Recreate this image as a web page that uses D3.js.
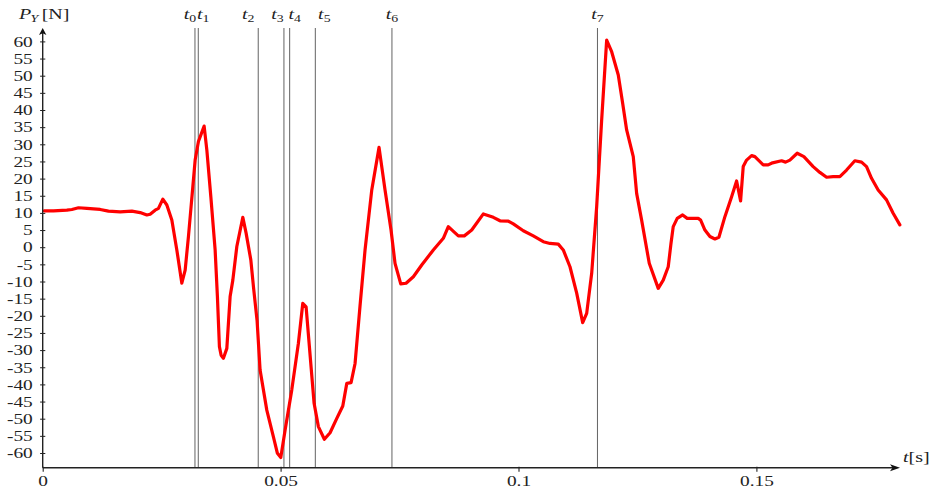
<!DOCTYPE html>
<html>
<head>
<meta charset="utf-8">
<script src="https://cdn.jsdelivr.net/npm/d3@7"></script>
<style>
  html, body { margin: 0; padding: 0; background: #fff; }
  svg { display: block; }
</style>
</head>
<body>
<svg id="chart" width="934" height="492"></svg>
<script>
// Measured lateral force P_Y over time (seconds, newtons)
const timeS = [
  0.00032, 0.00227, 0.00508, 0.00613, 0.00752, 0.00929, 0.01208, 0.01382, 0.01628, 0.01874,
  0.02048, 0.02189, 0.02258, 0.02363, 0.02433, 0.02525, 0.02609, 0.02714, 0.02819, 0.02924,
  0.02994, 0.03063, 0.03155, 0.03204, 0.03273, 0.03393, 0.03450, 0.03534, 0.03624, 0.03672,
  0.03714, 0.03750, 0.03798, 0.03870, 0.03939, 0.03996, 0.04080, 0.04206, 0.04275, 0.04374,
  0.04433, 0.04506, 0.04569, 0.04710, 0.04849, 0.04933, 0.05004, 0.05095, 0.05235, 0.05374,
  0.05466, 0.05536, 0.05605, 0.05704, 0.05794, 0.05920, 0.06040, 0.06181, 0.06307, 0.06391,
  0.06481, 0.06565, 0.06670, 0.06775, 0.06916, 0.07069, 0.07195, 0.07321, 0.07405, 0.07525,
  0.07637, 0.07790, 0.07966, 0.08210, 0.08420, 0.08525, 0.08735, 0.08861, 0.09017, 0.09261,
  0.09471, 0.09611, 0.09786, 0.09891, 0.10101, 0.10311, 0.10521, 0.10662, 0.10836, 0.10941,
  0.11082, 0.11223, 0.11349, 0.11433, 0.11538, 0.11643, 0.11748, 0.11853, 0.11958, 0.12097,
  0.12189, 0.12273, 0.12412, 0.12483, 0.12588, 0.12748, 0.12937, 0.13042, 0.13147, 0.13204,
  0.13252, 0.13336, 0.13450, 0.13546, 0.13777, 0.13828, 0.13918, 0.14023, 0.14128, 0.14212,
  0.14338, 0.14479, 0.14584, 0.14668, 0.14723, 0.14794, 0.14899, 0.14968, 0.15143, 0.15248,
  0.15340, 0.15529, 0.15613, 0.15704, 0.15857, 0.15998, 0.16193, 0.16334, 0.16475, 0.16613,
  0.16754, 0.16895, 0.17069, 0.17210, 0.17315, 0.17420, 0.17559, 0.17735, 0.17874, 0.18015
];
const forceN = [
  10.6, 10.6, 10.8, 11.0, 11.5, 11.3, 11.0, 10.5, 10.3, 10.5,
  10.1, 9.4, 9.6, 10.8, 11.3, 14.0, 12.3, 7.9, -0.8, -10.5,
  -6.7, 3.1, 17.6, 25.4, 30.8, 35.3, 28.3, 14.7, -0.8, -14.4,
  -29.0, -31.5, -32.4, -29.5, -14.4, -9.6, 0.2, 8.7, 4.1, -3.7,
  -12.0, -21.5, -35.8, -47.5, -55.3, -60.1, -61.3, -53.3, -41.6, -28.0,
  -16.4, -17.4, -29.0, -45.5, -52.3, -56.0, -54.1, -49.9, -46.3, -39.7,
  -39.5, -33.9, -17.0, -0.8, 16.7, 29.1, 16.7, 5.0, -4.7, -10.7,
  -10.5, -8.6, -5.2, -0.8, 2.6, 6.0, 3.3, 3.3, 5.0, 9.7,
  8.7, 7.7, 7.6, 6.8, 4.8, 3.3, 1.6, 1.1, 0.9, -0.8,
  -5.7, -13.4, -22.0, -19.3, -7.6, 11.8, 37.1, 60.4, 57.0, 50.2,
  42.0, 34.2, 26.4, 15.7, 7.9, -4.7, -12.0, -9.6, -5.7, 1.0,
  6.0, 8.4, 9.4, 8.4, 8.4, 7.9, 5.0, 3.1, 2.4, 2.9,
  8.9, 14.7, 19.3, 13.5, 23.5, 25.4, 26.7, 26.4, 24.0, 24.0,
  24.6, 25.2, 24.8, 25.4, 27.4, 26.4, 23.5, 21.8, 20.4, 20.6,
  20.6, 22.5, 25.2, 24.8, 23.5, 20.1, 16.7, 13.8, 9.9, 6.5
];

// Marked instants t0 ... t7 (seconds)
const eventTimes = [0.0320, 0.0327, 0.0453, 0.0507, 0.0519, 0.0573, 0.0734, 0.1166];
const eventIndex = ["0", "1", "2", "3", "4", "5", "6", "7"];

// Axis ticks
const xTickValues = [0, 0.05, 0.1, 0.15];
const yTickValues = d3.range(-60, 61, 5);

// ---- layout ----
const SX = 1.38;                 // horizontal stretch applied to all lettering
const FONT = "'Liberation Serif', 'Times New Roman', serif";
const INK = "#222";

const x = d3.scaleLinear().domain([0, 0.05]).range([42.7, 280.6]);
const y = d3.scaleLinear().domain([-60, 60]).range([453.0, 41.4]);

const axisY0 = y(-64.3);         // level of the time axis
const axisTop = y(63.9);         // tip of the force axis arrow
const axisRight = 900;           // tip of the time axis arrow
const x0 = x(0);

const svg = d3.select("#chart");

// vertical marker lines for the instants
const labelShift = [-5, 5, -10, -6.5, 5, 9, 0, 0];
const ev = svg.append("g");
ev.selectAll("line")
  .data(eventTimes)
  .join("line")
  .attr("x1", d => x(d)).attr("x2", d => x(d))
  .attr("y1", axisTop).attr("y2", axisY0)
  .attr("stroke", "#6a6a6a")
  .attr("stroke-width", 1.05);

const evLabels = ev.selectAll("text")
  .data(eventTimes)
  .join("text")
  .attr("transform", (d, i) => `translate(${x(d) + labelShift[i]},19) scale(${SX},1)`)
  .attr("text-anchor", "middle")
  .attr("font-family", FONT)
  .attr("font-size", 14.5)
  .attr("fill", INK);
evLabels.append("tspan").attr("font-style", "italic").text("t");
evLabels.append("tspan").attr("font-size", 10).attr("dy", 3).text((d, i) => eventIndex[i]);

// force curve
const line = d3.line()
  .x(d => x(d[0]))
  .y(d => y(d[1]));
svg.append("path")
  .datum(d3.zip(timeS, forceN))
  .attr("d", line)
  .attr("fill", "none")
  .attr("stroke", "#ff0000")
  .attr("stroke-width", 3.2)
  .attr("stroke-linejoin", "round")
  .attr("stroke-linecap", "round");

// left axis
const gy = svg.append("g")
  .attr("transform", `translate(${x0},0)`)
  .call(d3.axisLeft(y).tickValues(yTickValues).tickSize(0).tickFormat(d => String(d)));
gy.select(".domain").remove();
gy.selectAll(".tick").append("line")
  .attr("x1", -2.6).attr("x2", 2.6)
  .attr("stroke", INK).attr("stroke-width", 1);
gy.selectAll(".tick text")
  .attr("x", -10 / SX)
  .attr("dy", "0.34em")
  .attr("transform", `scale(${SX},1)`)
  .attr("font-family", FONT)
  .attr("font-size", 14)
  .attr("fill", INK);

// bottom axis
const gx = svg.append("g")
  .attr("transform", `translate(0,${axisY0})`)
  .call(d3.axisBottom(x).tickValues(xTickValues).tickSize(0).tickFormat(d => String(d)));
gx.select(".domain").remove();
gx.selectAll(".tick").append("line")
  .attr("y1", -1).attr("y2", 4)
  .attr("stroke", INK).attr("stroke-width", 1.1);
gx.selectAll(".tick text")
  .attr("y", 18.5)
  .attr("dy", 0)
  .attr("transform", `scale(${SX},1)`)
  .attr("font-family", FONT)
  .attr("font-size", 14)
  .attr("fill", INK);

// axis lines with arrow heads
svg.append("line")
  .attr("x1", x0).attr("x2", x0)
  .attr("y1", axisY0).attr("y2", axisTop + 5)
  .attr("stroke", INK).attr("stroke-width", 1.4);
svg.append("line")
  .attr("x1", x0).attr("x2", axisRight - 6)
  .attr("y1", axisY0).attr("y2", axisY0)
  .attr("stroke", INK).attr("stroke-width", 1.4);
svg.append("path")
  .attr("d", `M${x0},${axisTop} L${x0 + 3.7},${axisTop + 7} L${x0},${axisTop + 5.3} L${x0 - 3.7},${axisTop + 7} Z`)
  .attr("fill", "#111");
svg.append("path")
  .attr("d", `M${axisRight},${axisY0} L${axisRight - 10},${axisY0 - 3.4} L${axisRight - 7.5},${axisY0} L${axisRight - 10},${axisY0 + 3.4} Z`)
  .attr("fill", "#111");

// axis titles
const yTitle = svg.append("text")
  .attr("transform", `translate(19,19.3) scale(${SX},1)`)
  .attr("font-family", FONT)
  .attr("font-size", 14.5)
  .attr("fill", INK);
yTitle.append("tspan").attr("font-style", "italic").text("P");
yTitle.append("tspan").attr("font-style", "italic").attr("font-size", 10).attr("dy", 3).attr("dx", -0.5).text("Y");
yTitle.append("tspan").attr("dy", -3).attr("dx", 2.5).text("[N]");

const xTitle = svg.append("text")
  .attr("transform", `translate(903,461.5) scale(${SX},1)`)
  .attr("font-family", FONT)
  .attr("font-size", 14.5)
  .attr("fill", INK);
xTitle.append("tspan").attr("font-style", "italic").text("t");
xTitle.append("tspan").text("[s]");
</script>
</body>
</html>
